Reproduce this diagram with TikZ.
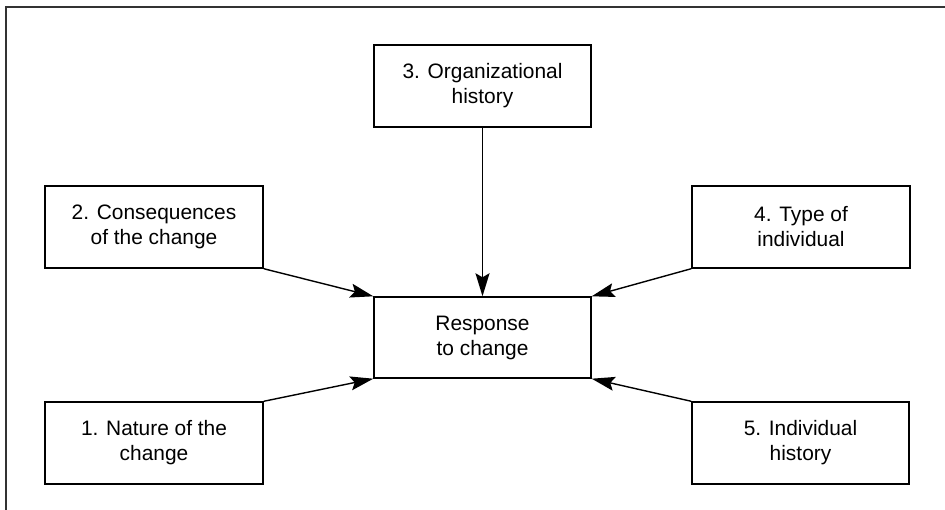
\documentclass[tikz,border=0pt]{standalone}
\usepackage{fontspec}
\setmainfont{Liberation Sans}
\usepackage{xcolor}
\usetikzlibrary{arrows.meta}

\begin{document}
\begin{tikzpicture}[x=1pt, y=-1pt,
    factor/.style = {draw, line width=1.4pt, minimum width=218pt, minimum height=82pt,
                     align=center, inner sep=0pt,
                     font=\fontsize{20.9}{25}\selectfont},
    link/.style = {line width=1.4pt, -{Stealth[length=23pt, width=14pt, inset=4pt]}}]

\useasboundingbox (0, 0) rectangle (945, 510);

	% frame
\draw [line width=2pt, color=black!80] (6, 510) -- (6, 7) -- (945, 7);

	% middle box
\node [factor, minimum width=217pt, minimum height=81pt] (resp) at (482.5, 337.5) {Response\\to change};

	% top
\node [factor, minimum width=217pt] (orghist) at (482.5, 86) {3. Organizational\\history};

	% left side
\node [factor] (conseq) at (154, 227) {2. Consequences\\of the change};
\node [factor] (nature) at (154, 443) {1. Nature of the\\change};

	% right side
\node [factor] (typeind) at (801, 227) {4. Type of\\individual};
\node [factor, minimum width=217pt] (indhist) at (800.5, 443) {5. Individual\\history};

	% arrows
\draw [link] (orghist.south) -- (resp.north);
\draw [link] (conseq.south east) -- (resp.north west);
\draw [link] (nature.north east) -- (resp.south west);
\draw [link] (typeind.south west) -- (resp.north east);
\draw [link] (indhist.north west) -- (resp.south east);

\end{tikzpicture}
\end{document}
